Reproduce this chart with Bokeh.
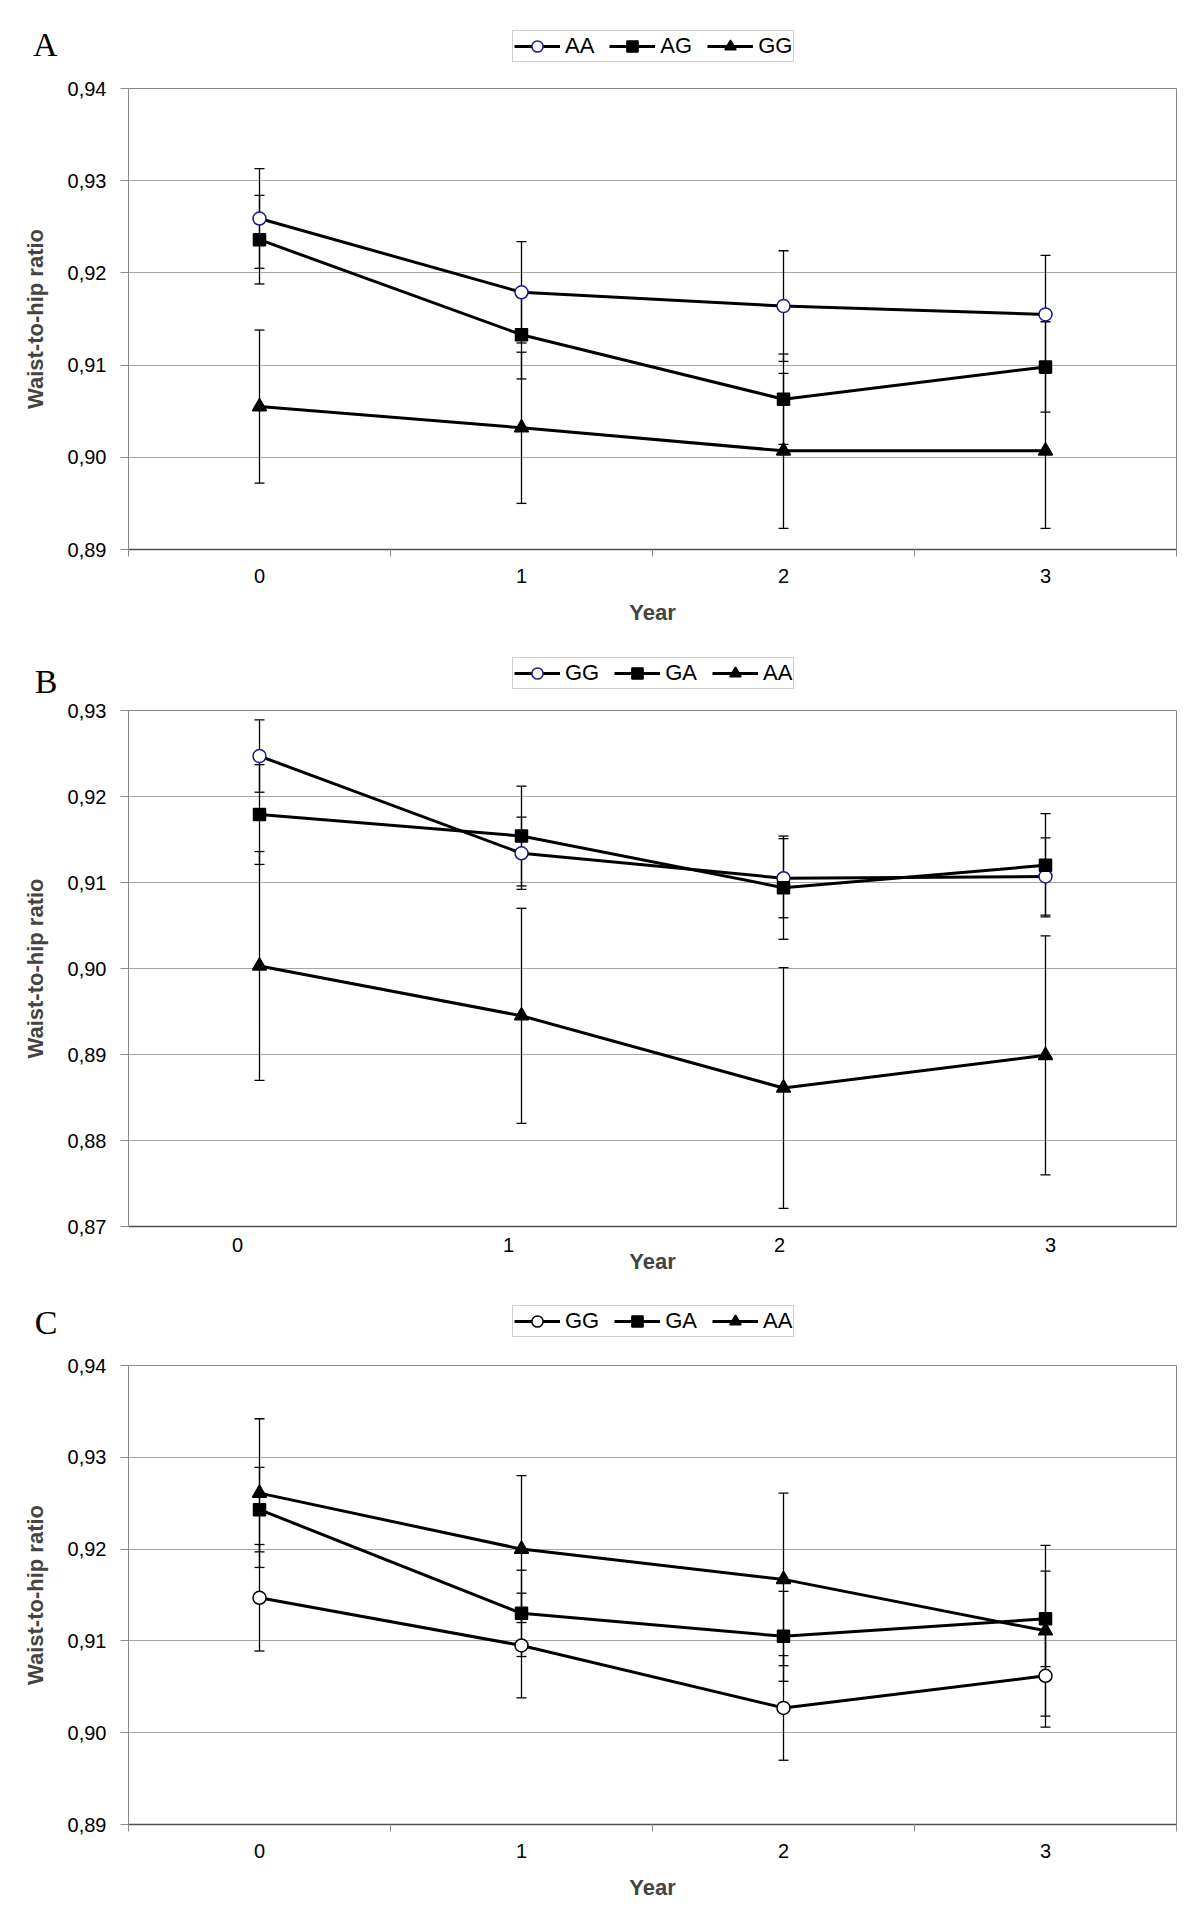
from bokeh.plotting import figure
from bokeh.models import (Range1d, FixedTicker, CustomJSTickFormatter, LinearAxis, Grid,
                          Legend, LegendItem, Whisker, TeeHead, ColumnDataSource)
from bokeh.layouts import column
from bokeh.embed import file_html
from bokeh.resources import INLINE

years = [0, 1, 2, 3]

# ---- Panel A ----
a_names = ["AA", "AG", "GG"]
a_AA = [0.9259, 0.9179, 0.9164, 0.9155]
a_AA_err = [0.0054, 0.0055, 0.0060, 0.0064]
a_AG = [0.9236, 0.9133, 0.9063, 0.9098]
a_AG_err = [0.0048, 0.0048, 0.0049, 0.0049]
a_GG = [0.9055, 0.9032, 0.9007, 0.9007]
a_GG_err = [0.0083, 0.0082, 0.0084, 0.0084]
a_yticks = [0.89, 0.90, 0.91, 0.92, 0.93, 0.94]

# ---- Panel B ----
b_names = ["GG", "GA", "AA"]
b_GG = [0.9247, 0.9134, 0.9105, 0.9107]
b_GG_err = [0.0042, 0.0042, 0.0046, 0.0045]
b_GA = [0.9179, 0.9154, 0.9094, 0.9120]
b_GA_err = [0.0058, 0.0058, 0.0060, 0.0060]
b_AA = [0.9003, 0.8945, 0.8861, 0.8899]
b_AA_err = [0.0133, 0.0125, 0.0140, 0.0139]
b_yticks = [0.87, 0.88, 0.89, 0.90, 0.91, 0.92, 0.93]

# ---- Panel C ----
c_names = ["GG", "GA", "AA"]
c_GG = [0.9147, 0.9095, 0.9027, 0.9062]
c_GG_err = [0.0058, 0.0057, 0.0057, 0.0056]
c_GA = [0.9243, 0.9130, 0.9105, 0.9124]
c_GA_err = [0.0046, 0.0047, 0.0049, 0.0052]
c_AA = [0.9261, 0.9200, 0.9167, 0.9111]
c_AA_err = [0.0081, 0.0080, 0.0094, 0.0093]
c_yticks = [0.89, 0.90, 0.91, 0.92, 0.93, 0.94]

x_labels = ["0", "1", "2", "3"]

SANS = "Liberation Sans"
SERIF = "Liberation Serif"
GRAY = "#8a8a8a"
W = 1184
LEFT = 128
RIGHT = 8

MARKERS = ["circle", "square", "triangle"]
SIZES = [13, 12, 14]
FILLS = ["white", "black", "black"]


def make_header(letter, names, means, height, legend_bottom, letter_mid, circle_edge):
    # panel letter + legend strip above each chart
    h = figure(width=W, height=height, x_range=Range1d(-0.5, 3.5), y_range=Range1d(0, height),
               extra_y_ranges={"off": Range1d(5, 6)},
               x_axis_location=None, y_axis_location=None,
               output_backend="svg", toolbar_location=None,
               min_border_left=LEFT, min_border_right=RIGHT,
               min_border_top=0, min_border_bottom=0)
    h.outline_line_color = None
    h.background_fill_color = "white"
    h.border_fill_color = "white"
    for r in h.center:
        if isinstance(r, Grid):
            r.visible = False

    # panel letter, shown as the single label of a bare left axis
    la = LinearAxis(ticker=FixedTicker(ticks=[letter_mid]),
                    major_label_overrides={letter_mid: letter})
    la.axis_line_color = None
    la.major_tick_line_color = None
    la.minor_tick_line_color = None
    la.major_tick_out = 0
    la.major_tick_in = 0
    la.major_label_standoff = 71
    la.major_label_text_font = SERIF
    la.major_label_text_font_size = "34px"
    la.major_label_text_color = "black"
    h.add_layout(la, "left")

    items = []
    edges = [circle_edge, "black", "black"]
    for i, name in enumerate(names):
        src = ColumnDataSource(dict(x=years, y=means[i]))
        lr = h.line("x", "y", source=src, y_range_name="off", line_color="black", line_width=3)
        sr = h.scatter("x", "y", source=src, y_range_name="off", marker=MARKERS[i],
                       size=SIZES[i], fill_color=FILLS[i], line_color=edges[i],
                       line_width=1.5)
        items.append(LegendItem(label=name, renderers=[lr, sr]))
    legend = Legend(items=items, orientation="horizontal",
                    location=(512 - LEFT, legend_bottom),
                    glyph_width=46, glyph_height=28, label_standoff=5, spacing=15,
                    padding=1, margin=0, border_line_color="#a0a0a0",
                    border_line_width=1,
                    label_text_font=SANS, label_text_font_size="22px",
                    label_text_color="black", background_fill_color="white")
    h.add_layout(legend)
    return h


def make_panel(means, errs, yticks, height, top, bottom, circle_edge, shifted=False):
    p = figure(width=W, height=height,
               x_range=Range1d(-0.5, 3.5), y_range=Range1d(yticks[0], yticks[-1]),
               x_axis_location=None, output_backend="svg", toolbar_location=None,
               min_border_left=LEFT, min_border_right=RIGHT,
               min_border_top=top, min_border_bottom=bottom,
               extra_x_ranges={"lab": Range1d(-0.4022, 3.465)} if shifted else {})
    p.outline_line_color = GRAY
    p.outline_line_width = 1
    p.background_fill_color = "white"
    p.border_fill_color = "white"
    for r in p.center:
        if isinstance(r, Grid) and r.dimension == 0:
            r.visible = False

    # y axis
    ya = p.yaxis[0]
    ya.ticker = FixedTicker(ticks=yticks)
    ya.formatter = CustomJSTickFormatter(code="return tick.toFixed(2).replace('.', ',');")
    ya.axis_label = "Waist-to-hip ratio"
    ya.axis_label_text_font = SANS
    ya.axis_label_text_font_style = "bold"
    ya.axis_label_text_font_size = "22px"
    ya.axis_label_standoff = 17
    ya.major_label_text_font = SANS
    ya.major_label_text_font_size = "20px"
    ya.major_label_text_color = "black"
    ya.major_label_standoff = 14
    ya.major_tick_out = 8
    ya.major_tick_in = 0
    ya.major_tick_line_color = GRAY
    ya.axis_line_color = GRAY
    ya.minor_tick_line_color = None
    p.ygrid.grid_line_color = "#a6a6a6"
    p.ygrid.grid_line_width = 1

    # x axis
    if shifted:
        xa = LinearAxis(x_range_name="lab",
                        ticker=FixedTicker(ticks=years),
                        major_label_overrides={y: s for y, s in zip(years, x_labels)})
        xa.major_tick_out = 0
        xa.major_tick_in = 0
        xa.major_tick_line_color = None
        xa.minor_tick_line_color = None
        xa.major_label_standoff = 11
        xa.axis_label_standoff = -6
    else:
        xa = LinearAxis(ticker=FixedTicker(ticks=years, minor_ticks=[-0.5, 0.5, 1.5, 2.5, 3.5]),
                        major_label_overrides={y: s for y, s in zip(years, x_labels)})
        xa.major_tick_out = 7
        xa.major_tick_in = 0
        xa.major_tick_line_color = None
        xa.minor_tick_out = 7
        xa.minor_tick_in = 0
        xa.minor_tick_line_color = GRAY
        xa.major_label_standoff = 12
        xa.axis_label_standoff = 14
    xa.axis_line_color = "#505050"
    xa.axis_line_width = 1.5
    xa.axis_label = "Year"
    xa.axis_label_text_font = SANS
    xa.axis_label_text_font_style = "bold"
    xa.axis_label_text_font_size = "22px"
    xa.major_label_text_font = SANS
    xa.major_label_text_font_size = "20px"
    xa.major_label_text_color = "black"
    p.add_layout(xa, "below")

    edges = [circle_edge, "black", "black"]
    sources = []
    for m, e in zip(means, errs):
        sources.append(ColumnDataSource(dict(
            x=years, y=m,
            upper=[v + d for v, d in zip(m, e)],
            lower=[v - d for v, d in zip(m, e)])))

    for src in sources:
        w = Whisker(source=src, base="x", upper="upper", lower="lower",
                    line_color="black", line_width=1.3, level="underlay",
                    upper_head=TeeHead(size=10, line_color="black", line_width=1.3),
                    lower_head=TeeHead(size=10, line_color="black", line_width=1.3))
        p.add_layout(w)

    for src in sources:
        p.line("x", "y", source=src, line_color="black", line_width=3)
    for i, src in enumerate(sources):
        p.scatter("x", "y", source=src, marker=MARKERS[i], size=SIZES[i],
                  fill_color=FILLS[i], line_color=edges[i], line_width=1.5)
    return p


hA = make_header("A", a_names, [a_AA, a_AG, a_GG], 72, 10, 28, "#1a1a80")
pA = make_panel([a_AA, a_AG, a_GG], [a_AA_err, a_AG_err, a_GG_err],
                a_yticks, 568, 16, 91, "#1a1a80")
hB = make_header("B", b_names, [b_GG, b_GA, b_AA], 60, 11, 18, "#1a1a80")
pB = make_panel([b_GG, b_GA, b_AA], [b_GG_err, b_GA_err, b_AA_err],
                b_yticks, 580, 10, 54, "#1a1a80", shifted=True)
hC = make_header("C", c_names, [c_GG, c_GA, c_AA], 70, 13, 28, "black")
pC = make_panel([c_GG, c_GA, c_AA], [c_GG_err, c_GA_err, c_AA_err],
                c_yticks, 552, 15, 78, "black")

layout = column(hA, pA, hB, pB, hC, pC, spacing=0)
open("out.html", "w").write(file_html(layout, INLINE))
